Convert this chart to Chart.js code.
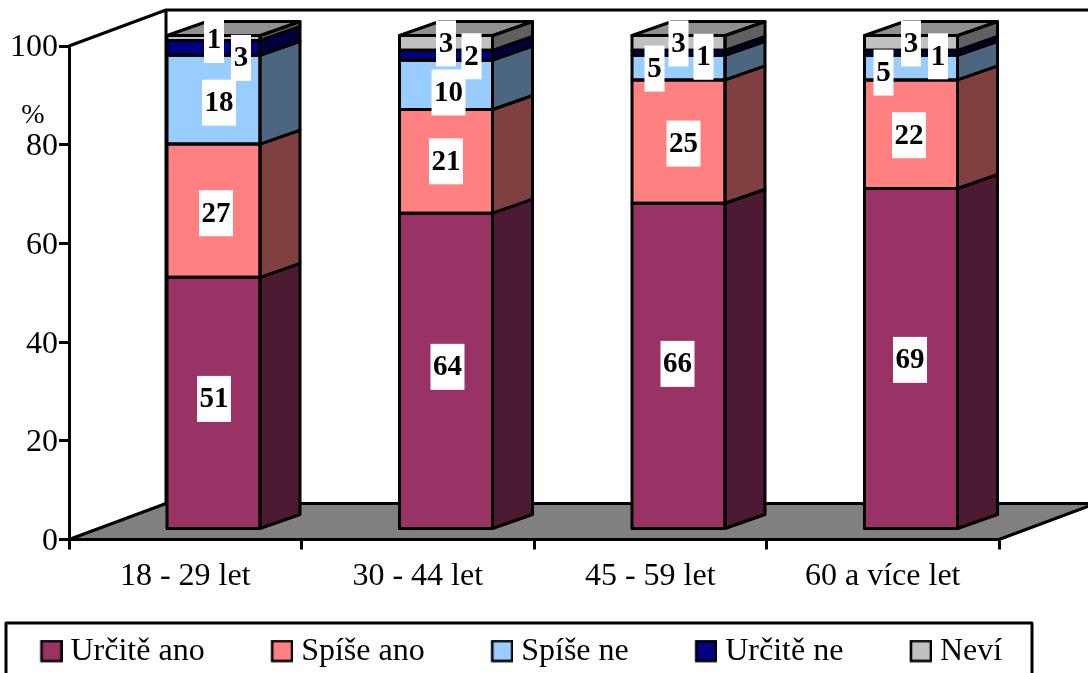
<!DOCTYPE html>
<html lang="cs">
<head>
<meta charset="utf-8">
<title>Graf</title>
<script src="https://cdn.jsdelivr.net/npm/chart.js@4/dist/chart.umd.min.js"></script>
<style>
html,body{margin:0;padding:0;background:#fff;overflow:hidden}
canvas{display:block}
</style>
</head>
<body>
<canvas id="c" width="1088" height="673"></canvas>
<script>
const categories = ["18 - 29 let", "30 - 44 let", "45 - 59 let", "60 a více let"];
const urciteAno = [51, 64, 66, 69];
const spiseAno  = [27, 21, 25, 22];
const spiseNe   = [18, 10, 5, 5];
const urciteNe  = [3, 2, 1, 1];
const nevi      = [1, 3, 3, 3];
const seriesNames = ["Určitě ano", "Spíše ano", "Spíše ne", "Určitě ne", "Neví"];
const seriesValues = [urciteAno, spiseAno, spiseNe, urciteNe, nevi];

// styles
const frontColors = ["#993366", "#FF8080", "#99CCFF", "#000080", "#C0C0C0"];
const sideColors  = ["#4D1A33", "#804040", "#4D6680", "#000040", "#606060"];
const topColor = "#909090";
const floorColor = "#808080";
const FONT = '"Liberation Serif", "Times New Roman", serif';
const LW = 3;
// 3D projection
const WALL_DX = 97, WALL_DY = -36;
const BAR_SHIFT_X = 28.25, BAR_SHIFT_Y = -10.5;
const BAR_DX = 40, BAR_DY = -14;
// label nudges from the segment centre: [series][category] = [dx, dy]
const labelNudge = [
  [[0.5,-4],[1.5,-4],[-1,-2],[-1,1.4]],
  [[2.5,2.5],[0,0],[5,2],[-2,1]],
  [[5.5,3],[2.5,7.6],[-24,1],[-27.5,5]],
  [[27.5,10],[25.5,1],[25,4],[27,3.5]],
  [[0.5,2],[0,0.5],[0,0.5],[0,0.5]]
];

function swatch(fill){
  const W = 90, H = 25, S = 21;
  const cv = document.createElement("canvas");
  cv.width = W; cv.height = H;
  const g = cv.getContext("2d");
  g.fillStyle = fill; g.strokeStyle = "#000"; g.lineWidth = 2.6;
  g.fillRect(W - S, 1.5, S - 1, S - 1);
  g.strokeRect(W - S, 1.5, S - 1, S - 1);
  return cv;
}
const swatches = frontColors.map(swatch);

function poly(ctx, pts, fill){
  ctx.beginPath();
  pts.forEach((p,i)=> i ? ctx.lineTo(p[0],p[1]) : ctx.moveTo(p[0],p[1]));
  ctx.closePath();
  if (fill){ ctx.fillStyle = fill; ctx.fill(); }
  ctx.stroke();
}

const scene = {
  id: "scene3d",
  afterLayout(chart){
    const l = chart.legend;
    l.left = -26; l.right = l.left + l.width;
    l.top = 629.5;
  },
  beforeDraw(chart){
    const {ctx, chartArea:a} = chart;
    ctx.save();
    ctx.fillStyle = "#fff"; ctx.fillRect(0,0,chart.width,chart.height);
    ctx.strokeStyle = "#000"; ctx.lineWidth = LW; ctx.lineJoin = "round";
    // floor
    poly(ctx, [[a.left,a.bottom],[a.left+WALL_DX,a.bottom+WALL_DY],[a.right+WALL_DX,a.bottom+WALL_DY],[a.right,a.bottom]], floorColor);
    // walls
    ctx.beginPath();
    ctx.moveTo(a.left,a.top);
    ctx.lineTo(a.left+WALL_DX,a.top+WALL_DY);
    ctx.lineTo(chart.width+10,a.top+WALL_DY);
    ctx.moveTo(a.left+WALL_DX,a.top+WALL_DY);
    ctx.lineTo(a.left+WALL_DX,a.bottom+WALL_DY);
    ctx.stroke();
    // legend frame
    ctx.strokeRect(6,623,1026,60);
    // axis caption
    ctx.fillStyle = "#000";
    ctx.font = "28px " + FONT;
    ctx.textAlign = "center"; ctx.textBaseline = "middle";
    ctx.fillText("%", 33, 116);
    ctx.restore();
  },
  beforeDatasetsDraw(chart){
    chart.ctx.save();
    chart.ctx.translate(BAR_SHIFT_X, BAR_SHIFT_Y);
  },
  afterDatasetsDraw(chart){
    const ctx = chart.ctx;
    ctx.strokeStyle = "#000"; ctx.lineWidth = LW; ctx.lineJoin = "round";
    const n = seriesValues.length;
    seriesValues.forEach((vals, s)=>{
      chart.getDatasetMeta(s).data.forEach((el)=>{
        const p = el.getProps(["x","y","base","width"], true);
        const L = p.x - p.width/2, R = p.x + p.width/2;
        poly(ctx, [[R,p.base],[R+BAR_DX,p.base+BAR_DY],[R+BAR_DX,p.y+BAR_DY],[R,p.y]], sideColors[s]);
        if (s === n-1) poly(ctx, [[L,p.y],[L+BAR_DX,p.y+BAR_DY],[R+BAR_DX,p.y+BAR_DY],[R,p.y]], topColor);
        ctx.strokeRect(L, p.y, p.width, p.base - p.y);
      });
    });
    ctx.font = "bold 29px " + FONT;
    ctx.textAlign = "center"; ctx.textBaseline = "middle";
    seriesValues.forEach((vals, s)=>{
      chart.getDatasetMeta(s).data.forEach((el,c)=>{
        const p = el.getProps(["x","y","base"], true);
        const cx = p.x + labelNudge[s][c][0], cy = (p.y+p.base)/2 + labelNudge[s][c][1];
        const txt = String(vals[c]);
        const w = txt.length > 1 ? 34 : 20, h = 46;
        ctx.fillStyle = "#fff";
        ctx.fillRect(cx - w/2, cy - h/2, w, h);
        ctx.fillStyle = "#000";
        ctx.fillText(txt, cx, cy + 1);
      });
    });
    ctx.restore();
  }
};

new Chart(document.getElementById("c"), {
  type: "bar",
  plugins: [scene],
  data: {
    labels: categories,
    datasets: seriesNames.map((name,i)=>({
      label: name,
      data: seriesValues[i],
      backgroundColor: frontColors[i],
      borderWidth: 0,
      clip: false
    }))
  },
  options: {
    responsive: false,
    animation: false,
    layout: { padding: { left: 0, right: 0, top: 46, bottom: 0 } },
    datasets: { bar: { categoryPercentage: 1, barPercentage: 0.4 } },
    plugins: {
      tooltip: { enabled: false },
      legend: {
        display: true,
        position: "bottom",
        align: "start",
        labels: {
          color: "#000",
          font: { family: FONT, size: 32 },
          usePointStyle: true,
          pointStyleWidth: 74,
          padding: 6.5,
          generateLabels(chart){
            return Chart.defaults.plugins.legend.labels.generateLabels(chart).map((it,i)=>{
              it.pointStyle = swatches[i];
              return it;
            });
          }
        }
      }
    },
    scales: {
      x: {
        stacked: true,
        afterFit(s){ s.height = 85; },
        grid: { display: true, drawOnChartArea: false, drawTicks: true, tickLength: 10, tickColor: "#000", tickWidth: LW, offset: true },
        border: { display: true, color: "#000", width: LW },
        ticks: { color: "#000", font: { family: FONT, size: 32 }, padding: 8, maxRotation: 0 }
      },
      y: {
        stacked: true,
        min: 0, max: 100,
        afterFit(s){ s.width = 69; },
        grid: { display: true, drawOnChartArea: false, drawTicks: true, tickLength: 10, tickColor: "#000", tickWidth: LW },
        border: { display: true, color: "#000", width: LW },
        ticks: { color: "#000", font: { family: FONT, size: 32 }, stepSize: 20, padding: 1, labelOffset: 2 }
      },
      rightGutter: {
        type: "linear",
        position: "right",
        afterFit(s){ s.width = 89; },
        grid: { display: false },
        border: { display: false },
        ticks: { display: false }
      }
    }
  }
});
</script>
</body>
</html>
